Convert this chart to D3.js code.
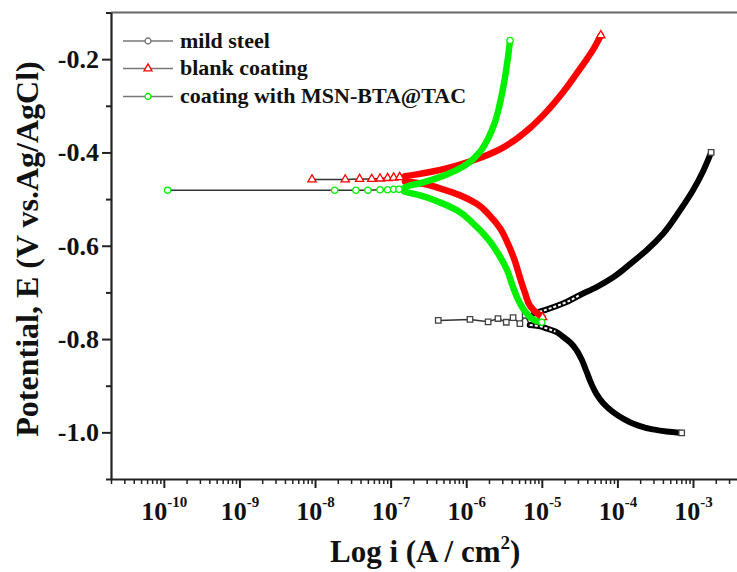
<!DOCTYPE html>
<html><head><meta charset="utf-8">
<script src="https://cdn.jsdelivr.net/npm/d3@7"></script>
<style>
body{margin:0;background:#fff}
svg{display:block}
text{font-family:"Liberation Serif","Times New Roman",serif;font-weight:bold;fill:#111}
</style>
</head><body><svg id="c" width="737" height="572"></svg>
<script>
// ---- data: each point is [log10 i (A/cm2), E (V vs Ag/AgCl)] ----
const seriesNames = ["mild steel", "blank coating", "coating with MSN-BTA@TAC"];
const seriesColors = ["#000000", "#ff0000", "#00f000"];
const seriesSymbols = ["square", "triangle", "circle"];

const steelSparse = [[-6.37,-0.760],[-5.95,-0.758],[-5.71,-0.763],[-5.58,-0.756],[-5.47,-0.764],[-5.38,-0.754],[-5.29,-0.767],[-5.22,-0.749]];
const steelCathodic = [[-5.16,-0.770],[-5.05,-0.772],[-4.94,-0.777],[-4.82,-0.784],[-4.72,-0.795],[-4.62,-0.808],[-4.54,-0.824],[-4.47,-0.845],[-4.41,-0.869],[-4.35,-0.894],[-4.28,-0.917],[-4.19,-0.937],[-4.07,-0.955],[-3.93,-0.970],[-3.75,-0.984],[-3.55,-0.993],[-3.35,-0.998],[-3.15,-1.001]];
const steelAnodic = [[-5.10,-0.745],[-4.96,-0.738],[-4.72,-0.724],[-4.50,-0.706],[-4.27,-0.688],[-4.05,-0.667],[-3.83,-0.639],[-3.61,-0.609],[-3.39,-0.573],[-3.18,-0.526],[-3.00,-0.481],[-2.86,-0.438],[-2.76,-0.400]];

const blankSparse = [[-8.04,-0.458],[-7.60,-0.458],[-7.41,-0.457],[-7.25,-0.457],[-7.14,-0.456],[-7.04,-0.455],[-6.96,-0.454],[-6.88,-0.453]];
const blankAnodic = [[-6.81,-0.451],[-6.65,-0.447],[-6.48,-0.442],[-6.26,-0.434],[-6.04,-0.424],[-5.82,-0.412],[-5.60,-0.397],[-5.38,-0.376],[-5.16,-0.348],[-4.94,-0.313],[-4.72,-0.271],[-4.50,-0.222],[-4.32,-0.179],[-4.22,-0.149]];
const blankCathodic = [[-6.81,-0.462],[-6.61,-0.466],[-6.35,-0.477],[-6.08,-0.492],[-5.86,-0.510],[-5.69,-0.535],[-5.55,-0.563],[-5.45,-0.595],[-5.36,-0.631],[-5.29,-0.668],[-5.22,-0.702],[-5.15,-0.730],[-5.06,-0.745],[-4.99,-0.753]];

const coatSparse = [[-9.95,-0.481],[-7.74,-0.481],[-7.46,-0.481],[-7.30,-0.481],[-7.14,-0.480],[-7.04,-0.480],[-6.96,-0.479],[-6.89,-0.479]];
const coatAnodic = [[-6.82,-0.476],[-6.75,-0.471],[-6.61,-0.466],[-6.48,-0.460],[-6.35,-0.453],[-6.13,-0.438],[-5.95,-0.420],[-5.82,-0.399],[-5.71,-0.370],[-5.62,-0.335],[-5.55,-0.292],[-5.49,-0.242],[-5.45,-0.199],[-5.42,-0.160]];
const coatCathodic = [[-6.82,-0.484],[-6.61,-0.492],[-6.35,-0.507],[-6.12,-0.524],[-5.91,-0.552],[-5.73,-0.582],[-5.58,-0.616],[-5.46,-0.652],[-5.38,-0.689],[-5.29,-0.723],[-5.20,-0.745],[-5.09,-0.760],[-5.00,-0.764]];

const xMajorExps = [-10, -9, -8, -7, -6, -5, -4, -3];
const yMajorTicks = [-1.0, -0.8, -0.6, -0.4, -0.2];
const yMinorTicks = [-1.1, -0.9, -0.7, -0.5, -0.3, -0.1];
const xTitle = "Log i (A / cm";
const yTitle = "Potential, E (V vs.Ag/AgCl)";

// ---- scales ----
const svg = d3.select("#c");
const x = d3.scaleLog().domain([2e-11, 1e-2]).range([111, 768.6]);
const y = d3.scaleLinear().domain([-1.1, -0.1]).range([479, 12.5]);
const px = d => x(Math.pow(10, d[0]));
const py = d => y(d[1]);

// frame (top line)
svg.append("line").attr("x1", 111).attr("x2", 737).attr("y1", y(-0.1)).attr("y2", y(-0.1))
  .attr("stroke", "#666").attr("stroke-width", 2);

// x minor ticks
const xMinor = [];
[-11, -10, -9, -8, -7, -6, -5, -4, -3].forEach(e => { for (let k = 2; k <= 9; k++) { const v = k * Math.pow(10, e); if (v >= 2e-11 && v < 1e-2) xMinor.push(v); } });
svg.append("g").attr("transform", "translate(0,479)")
  .call(d3.axisBottom(x).tickValues(xMinor).tickSize(5).tickSizeOuter(0).tickFormat(""))
  .call(g => g.select(".domain").remove())
  .call(g => g.selectAll("line").attr("stroke", "#222").attr("stroke-width", 1.5));

// x major axis
const gx = svg.append("g").attr("transform", "translate(0,479)")
  .call(d3.axisBottom(x).tickValues(xMajorExps.map(e => Math.pow(10, e))).tickSize(9).tickSizeOuter(0));
gx.select(".domain").attr("stroke", "#222").attr("stroke-width", 2);
gx.selectAll("line").attr("stroke", "#222").attr("stroke-width", 2);
gx.selectAll(".tick text").each(function(d) {
  const e = Math.round(Math.log10(d));
  const t = d3.select(this);
  t.text(null).attr("y", 41).attr("dy", null).attr("font-size", 26).attr("fill", "#111");
  t.append("tspan").text("10");
  t.append("tspan").attr("dy", -13).attr("font-size", 15).text(String(e));
});

// y minor ticks
svg.append("g").attr("transform", "translate(111,0)")
  .call(d3.axisLeft(y).tickValues(yMinorTicks).tickSize(5).tickSizeOuter(0).tickFormat(""))
  .call(g => g.select(".domain").remove())
  .call(g => g.selectAll("line").attr("stroke", "#222").attr("stroke-width", 2));
// y major axis
const gy = svg.append("g").attr("transform", "translate(111,0)")
  .call(d3.axisLeft(y).tickValues(yMajorTicks).tickSize(9).tickSizeOuter(0).tickFormat(d => d.toFixed(1)));
gy.select(".domain").attr("stroke", "#222").attr("stroke-width", 2.2);
gy.selectAll("line").attr("stroke", "#222").attr("stroke-width", 2);
gy.selectAll(".tick text").attr("font-size", 26).attr("fill", "#111").attr("x", -12);

// titles
svg.append("text").attr("transform", "translate(38,249) rotate(-90)")
  .attr("text-anchor", "middle").attr("font-size", 32).text(yTitle);
const xt = svg.append("text").attr("x", 330).attr("y", 562).attr("font-size", 31);
xt.append("tspan").text(xTitle);
xt.append("tspan").attr("dy", -13).attr("font-size", 19).text("2");
xt.append("tspan").attr("dy", 13).text(")");

// ---- series ----
const series = [
  {sparse: steelSparse, cath: steelCathodic, anod: steelAnodic},
  {sparse: blankSparse, cath: blankCathodic, anod: blankAnodic},
  {sparse: coatSparse, cath: coatCathodic, anod: coatAnodic}
];
const band = d3.line().x(px).y(py).curve(d3.curveMonotoneY);
const thin = d3.line().x(px).y(py);
const symType = {square: d3.symbolSquare, triangle: d3.symbolTriangle, circle: d3.symbolCircle};
const symSize = {square: 30, triangle: 30, circle: 32};

series.forEach((s, i) => {
  const c = seriesColors[i];
  const g = svg.append("g");
  // thin connecting line through the points near Ecorr
  g.append("path").attr("d", thin(s.sparse.concat([s.anod[0]])))
    .attr("fill", "none").attr("stroke", "#333").attr("stroke-width", 1.5);
  g.append("path").attr("d", thin([s.sparse[s.sparse.length - 1], s.cath[0]]))
    .attr("fill", "none").attr("stroke", "#333").attr("stroke-width", 1.5);
  // dense branches
  [s.cath, s.anod].forEach(br => {
    g.append("path").attr("d", band(br)).attr("fill", "none")
      .attr("stroke", c).attr("stroke-width", i === 0 ? 6 : 6.5).attr("stroke-linecap", "round");
    if (i === 0) {
      // open-marker look near Ecorr, where the squares are still separated
      g.append("path").attr("d", band(br.slice(0, 4))).attr("fill", "none")
        .attr("stroke", "#fff").attr("stroke-width", 2).attr("stroke-dasharray", "3 2");
    }
  });
  // open markers: sparse points and branch ends
  const sym = d3.symbol().type(symType[seriesSymbols[i]]).size(symSize[seriesSymbols[i]]);
  const pts = s.sparse.concat([s.cath[s.cath.length - 1], s.anod[s.anod.length - 1]]);
  g.selectAll("path.m").data(pts).join("path").attr("class", "m")
    .attr("transform", d => `translate(${px(d)},${py(d)})`)
    .attr("d", sym).attr("fill", "#fff").attr("stroke", i === 0 ? "#444" : c).attr("stroke-width", 1.3);
});

// ---- legend ----
const legRows = [41, 68.5, 96.5];
seriesNames.forEach((n, i) => {
  const g = svg.append("g").attr("transform", `translate(0,${legRows[i]})`);
  g.append("line").attr("x1", 123).attr("x2", 173).attr("stroke", "#777").attr("stroke-width", 1.6);
  g.append("path").attr("transform", "translate(148,0)")
    .attr("d", d3.symbol().type(i === 1 ? d3.symbolTriangle : d3.symbolCircle).size(28))
    .attr("fill", "#fff").attr("stroke", i === 0 ? "#777" : seriesColors[i]).attr("stroke-width", 1.3);
  g.append("text").attr("x", 180).attr("y", 6.5).attr("font-size", 22).text(n);
});
</script>
</body></html>
